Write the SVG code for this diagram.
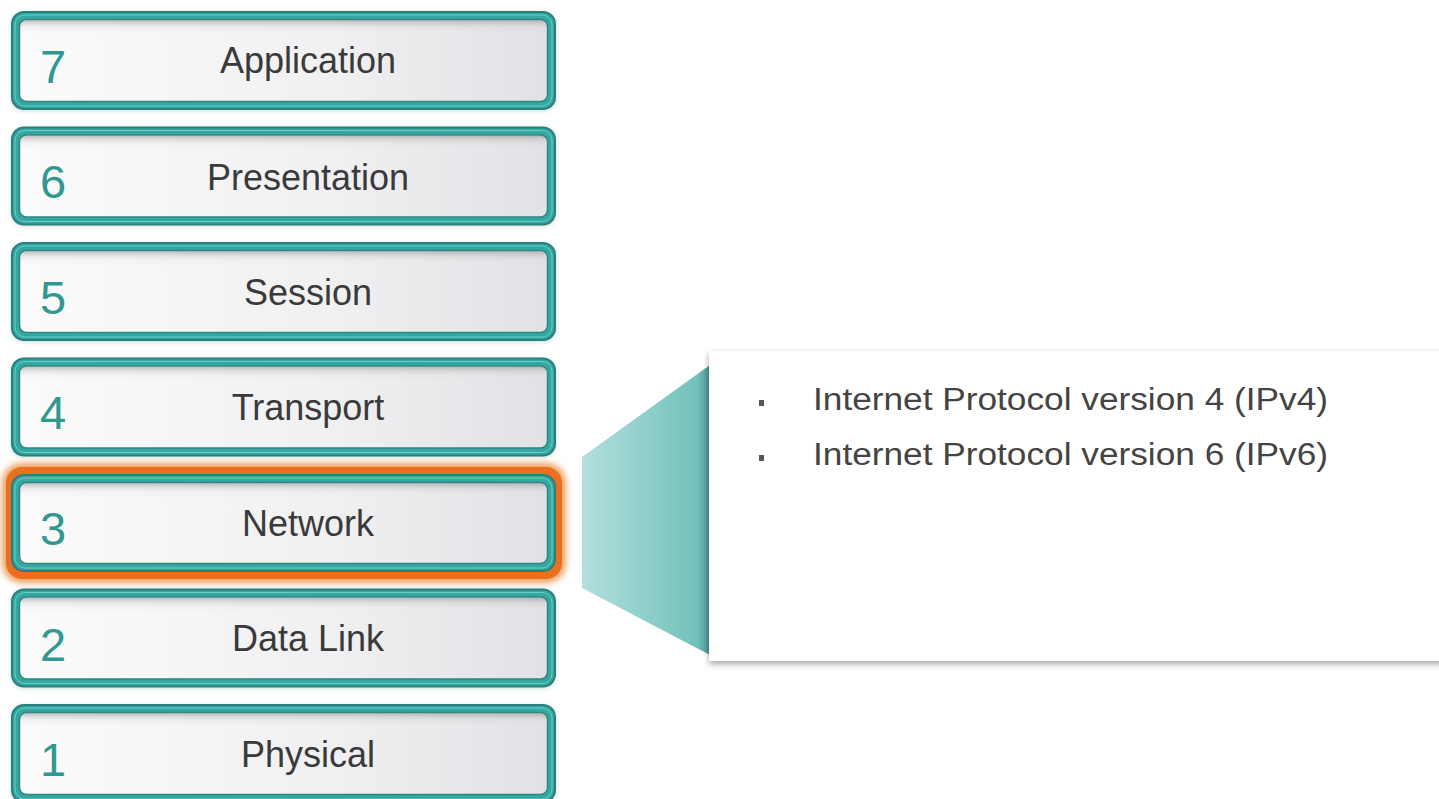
<svg xmlns="http://www.w3.org/2000/svg" width="1439" height="799" viewBox="0 0 1439 799">
<defs>
<linearGradient id="inner" x1="0" y1="0" x2="1" y2="0">
<stop offset="0" stop-color="#fbfbfb"/>
<stop offset="0.6" stop-color="#f0f0f2"/>
<stop offset="1" stop-color="#e2e2e6"/>
</linearGradient>
<linearGradient id="innerTop" x1="0" y1="0" x2="0" y2="1">
<stop offset="0" stop-color="#8a8a8a" stop-opacity="0.55"/>
<stop offset="0.08" stop-color="#bbbbbb" stop-opacity="0.2"/>
<stop offset="0.2" stop-color="#ffffff" stop-opacity="0"/>
</linearGradient>
<linearGradient id="wedge" x1="0" y1="0" x2="1" y2="0">
<stop offset="0" stop-color="#b4dfdd"/>
<stop offset="0.9" stop-color="#72c1bc"/>
<stop offset="1" stop-color="#4e9893"/>
</linearGradient>
<filter id="glow" x="-10%" y="-30%" width="120%" height="160%">
<feGaussianBlur stdDeviation="3"/>
</filter>
<filter id="shadow" x="-5%" y="-10%" width="110%" height="125%">
<feDropShadow dx="0" dy="3" stdDeviation="3" flood-color="#000" flood-opacity="0.35"/>
</filter>
<filter id="soft" x="-5%" y="-20%" width="110%" height="140%">
<feDropShadow dx="0" dy="1" stdDeviation="2" flood-color="#6a9a98" flood-opacity="0.35"/>
</filter>
</defs>
<style>
.outer{fill:#36a7a1;stroke:#2b7f7b;stroke-width:2;}
.band{fill:none;stroke:#66cfc8;stroke-width:1;}
.in{fill:url(#inner);stroke:#2d8783;stroke-width:1.5;}
.inshade{fill:url(#innerTop);}
.num{font-family:"Liberation Sans",Arial,sans-serif;font-size:47px;fill:#2e9891;}
.lbl{font-family:"Liberation Sans",Arial,sans-serif;font-size:36px;fill:#3a3a3a;text-anchor:middle;}
.txt{font-family:"Liberation Sans",Arial,sans-serif;font-size:31px;fill:#444444;}
</style>
<rect width="1439" height="799" fill="#ffffff"/>

<g id="glow-network">
<rect x="2" y="463" width="564" height="120" rx="20" fill="#f0a060" filter="url(#glow)"/>
<rect x="6" y="467" width="556" height="112" rx="16" fill="#ea7020"/>
</g>

<g id="layer7">
<rect class="outer" x="12" y="12" width="543" height="97" rx="12" filter="url(#soft)"/>
<rect class="band" x="15" y="15" width="537" height="91" rx="10"/>
<rect class="in" x="19.5" y="19.5" width="528" height="82" rx="7"/>
<rect class="inshade" x="20" y="20" width="527" height="81" rx="7"/>
<text class="num" x="40" y="83">7</text>
<text class="lbl" x="308" y="73">Application</text>
</g>
<g id="layer6">
<rect class="outer" x="12" y="127.5" width="543" height="97" rx="12" filter="url(#soft)"/>
<rect class="band" x="15" y="130.5" width="537" height="91" rx="10"/>
<rect class="in" x="19.5" y="135" width="528" height="82" rx="7"/>
<rect class="inshade" x="20" y="135.5" width="527" height="81" rx="7"/>
<text class="num" x="40" y="198">6</text>
<text class="lbl" x="308" y="190">Presentation</text>
</g>
<g id="layer5">
<rect class="outer" x="12" y="243" width="543" height="97" rx="12" filter="url(#soft)"/>
<rect class="band" x="15" y="246" width="537" height="91" rx="10"/>
<rect class="in" x="19.5" y="250.5" width="528" height="82" rx="7"/>
<rect class="inshade" x="20" y="251" width="527" height="81" rx="7"/>
<text class="num" x="40" y="314">5</text>
<text class="lbl" x="308" y="305">Session</text>
</g>
<g id="layer4">
<rect class="outer" x="12" y="358.5" width="543" height="97" rx="12" filter="url(#soft)"/>
<rect class="band" x="15" y="361.5" width="537" height="91" rx="10"/>
<rect class="in" x="19.5" y="366" width="528" height="82" rx="7"/>
<rect class="inshade" x="20" y="366.5" width="527" height="81" rx="7"/>
<text class="num" x="40" y="429">4</text>
<text class="lbl" x="308" y="420">Transport</text>
</g>
<g id="layer3">
<rect class="outer" x="12" y="475" width="543" height="96" rx="12"/>
<rect class="band" x="15" y="478" width="537" height="90" rx="10"/>
<rect class="in" x="19.5" y="482.5" width="528" height="81" rx="7"/>
<rect class="inshade" x="20" y="483" width="527" height="80" rx="7"/>
<text class="num" x="40" y="545">3</text>
<text class="lbl" x="308" y="536">Network</text>
</g>
<g id="layer2">
<rect class="outer" x="12" y="589.5" width="543" height="97" rx="12" filter="url(#soft)"/>
<rect class="band" x="15" y="592.5" width="537" height="91" rx="10"/>
<rect class="in" x="19.5" y="597" width="528" height="82" rx="7"/>
<rect class="inshade" x="20" y="597.5" width="527" height="81" rx="7"/>
<text class="num" x="40" y="661">2</text>
<text class="lbl" x="308" y="651">Data Link</text>
</g>
<g id="layer1">
<rect class="outer" x="12" y="705" width="543" height="97" rx="12" filter="url(#soft)"/>
<rect class="band" x="15" y="708" width="537" height="91" rx="10"/>
<rect class="in" x="19.5" y="712.5" width="528" height="82" rx="7"/>
<rect class="inshade" x="20" y="713" width="527" height="81" rx="7"/>
<text class="num" x="40" y="776">1</text>
<text class="lbl" x="308" y="767">Physical</text>
</g>

<g id="connectors">
<polygon points="582,457 710,365 710,655 582,588" fill="url(#wedge)"/>
</g>

<g id="callout">
<rect x="709" y="351" width="760" height="310" fill="#ffffff" filter="url(#shadow)"/>
<rect x="759" y="400" width="5" height="6" fill="#555555"/>
<rect x="759" y="455" width="5" height="6" fill="#555555"/>
<text class="txt" x="813" y="410" textLength="515" lengthAdjust="spacingAndGlyphs">Internet Protocol version 4 (IPv4)</text>
<text class="txt" x="813" y="465" textLength="515" lengthAdjust="spacingAndGlyphs">Internet Protocol version 6 (IPv6)</text>
</g>
</svg>
